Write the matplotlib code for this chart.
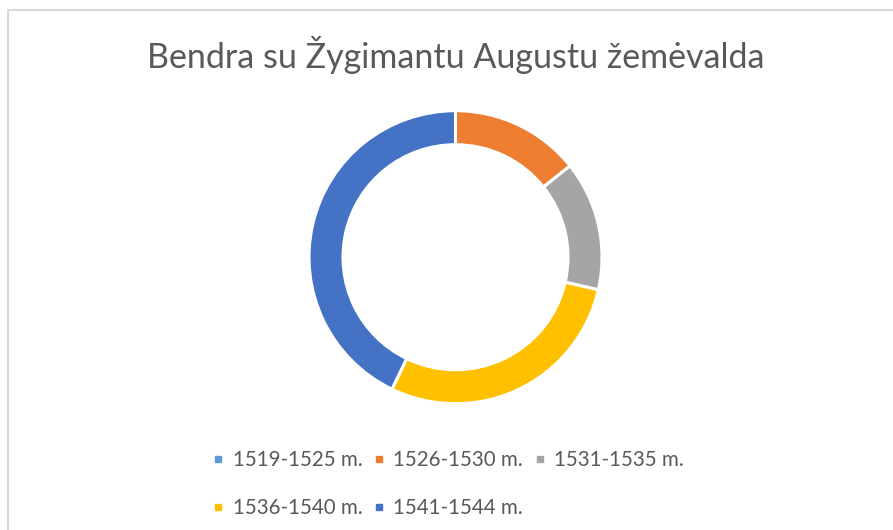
import matplotlib
matplotlib.use("Agg")
import matplotlib.pyplot as plt
from matplotlib.lines import Line2D
from matplotlib.patches import Rectangle

title = "Bendra su Žygimantu Augustu žemėvalda"
categories = ["1519-1525 m.", "1526-1530 m.", "1531-1535 m.", "1536-1540 m.", "1541-1544 m."]
values = [0, 1, 1, 2, 3]
colors = ["#5B9BD5", "#ED7D31", "#A5A5A5", "#FFC000", "#4472C4"]

W, H = 893, 530
fig = plt.figure(figsize=(W / 100, H / 100), dpi=100)
fig.patch.set_facecolor("white")

# chart border (only left/top visible in reference)
fig.patches.append(Rectangle((7.5 / W, -0.05), 1.2, 1 - 10 / H + 0.05,
                             transform=fig.transFigure, fill=False,
                             edgecolor="#D9D9D9", linewidth=1.5))

cx, cy, R = 455.5, 257.2, 146.5
ax = fig.add_axes([(cx - R) / W, 1 - (cy + R) / H, 2 * R / W, 2 * R / H])
ax.pie(values, colors=colors, startangle=90, counterclock=False,
       radius=1.0, wedgeprops=dict(width=0.232, edgecolor="white", linewidth=2.2))
ax.set_xlim(-1, 1)
ax.set_ylim(-1, 1)
ax.set_aspect("equal")
ax.axis("off")

fig.text(456 / W, 1 - 55 / H, title, ha="center", va="center",
         fontsize=24.5, color="#595959", family="Lato")

handles = [Line2D([], [], marker="s", linestyle="none", markersize=4.6,
                  markerfacecolor=c, markeredgecolor=c) for c in colors]
order = [0, 3, 1, 4, 2]
leg = fig.legend([handles[i] for i in order], [categories[i] for i in order],
                 ncol=3, loc="upper left", bbox_to_anchor=(213 / W, 1 - 450 / H),
                 frameon=False, prop=dict(family="Lato", size=14.8),
                 handlelength=0.5, handletextpad=0.45, columnspacing=0.56,
                 labelspacing=1.37, borderpad=0, borderaxespad=0)
for t in leg.get_texts():
    t.set_color("#595959")

fig.savefig("out.png", dpi=100, facecolor="white")
